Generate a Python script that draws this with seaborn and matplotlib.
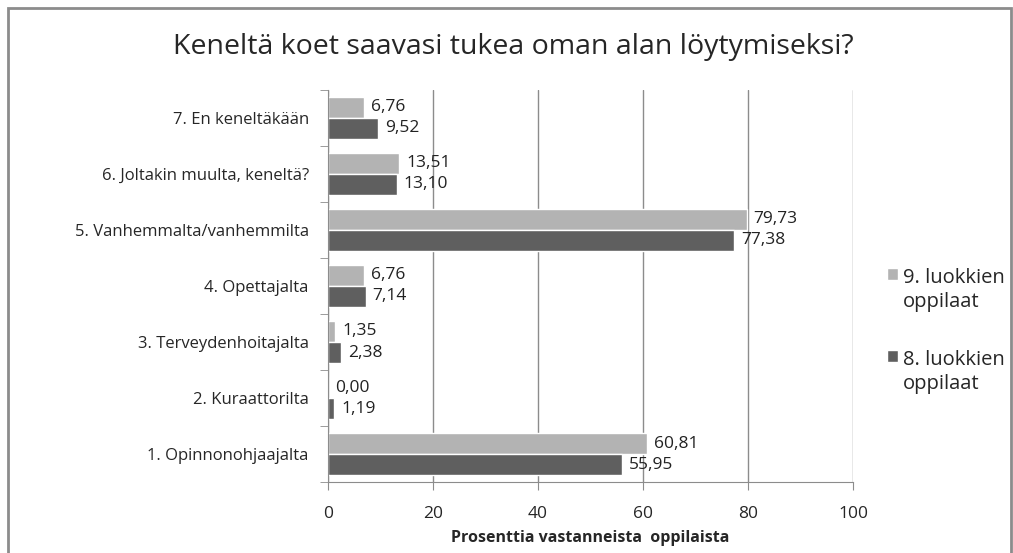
import pandas as pd
import seaborn as sns
import matplotlib.pyplot as plt
import numpy as np
from matplotlib.patches import Rectangle

# Data
categories = ["7. En keneltäkään", "6. Joltakin muulta, keneltä?",
              "5. Vanhemmalta/vanhemmilta", "4. Opettajalta",
              "3. Terveydenhoitajalta", "2. Kuraattorilta", "1. Opinnonohjaajalta"]
grade9 = [6.76, 13.51, 79.73, 6.76, 1.35, 0.00, 60.81]
grade8 = [9.52, 13.10, 77.38, 7.14, 2.38, 1.19, 55.95]
series = ["9. luokkien\noppilaat", "8. luokkien\noppilaat"]
colors = ["#B3B3B3", "#5F5F5F"]

df = pd.DataFrame({"category": categories * 2,
                   "value": grade9 + grade8,
                   "series": [series[0]] * 7 + [series[1]] * 7})

sns.set_style("white")
plt.rcParams["font.family"] = ["Open Sans", "DejaVu Sans"]

fig = plt.figure(figsize=(10.13, 5.53), dpi=100)
ax = fig.add_axes([0.324, 0.128, 0.518, 0.71])

sns.barplot(data=df, x="value", y="category", hue="series", order=categories,
            hue_order=series, palette=colors, width=0.75, orient="h",
            saturation=1, ax=ax)

# value labels with Finnish decimal commas
for cont in ax.containers:
    labels = [f"{b.get_width():.2f}".replace(".", ",") for b in cont]
    ax.bar_label(cont, labels=labels, padding=5, fontsize=12.5, color="#222222")

ax.set_xlim(0, 100)
ax.set_xticks(np.arange(0, 101, 20))
ax.xaxis.grid(True, color="#8C8C8C", linewidth=1)
ax.set_axisbelow(True)
ax.set_ylabel("")
ax.set_xlabel("Prosenttia vastanneista  oppilaista", fontsize=11.5, fontweight="bold",
              labelpad=6)
ax.tick_params(axis="x", labelsize=12.5, length=6, color="#8C8C8C", direction="out",
               bottom=True, pad=11)
ax.tick_params(axis="y", labelsize=12, length=0, pad=14)
ax.set_yticks(np.arange(-0.5, 7, 1), minor=True)
ax.tick_params(axis="y", which="minor", length=6, color="#8C8C8C", left=True)
for s in ["top", "right"]:
    ax.spines[s].set_visible(False)
for s in ["left", "bottom"]:
    ax.spines[s].set_color("#8C8C8C")

leg = ax.legend(loc="center left", bbox_to_anchor=(1.03, 0.385), frameon=False,
                fontsize=14.5, handlelength=0.55, handleheight=0.55, handletextpad=0.25,
                labelspacing=1.9)
for t in leg.get_texts():
    t.set_linespacing(1.25)
# put the legend square next to the first line of each label
for col in leg._legend_handle_box.get_children():
    for item in col.get_children():
        item.align = "top"
        item.get_children()[0].set_offset((0, -6))

fig.text(0.507, 0.915, "Keneltä koet saavasi tukea oman alan löytymiseksi?",
         ha="center", va="center", fontsize=20.5)

# outer chart border
fig.patches.append(Rectangle((8 / 1013, -0.01), 1003 / 1013, 1 - 8 / 553 + 0.01,
                             transform=fig.transFigure, fill=False,
                             edgecolor="#8C8C8C", linewidth=2))

fig.savefig("out.png", dpi=100)
